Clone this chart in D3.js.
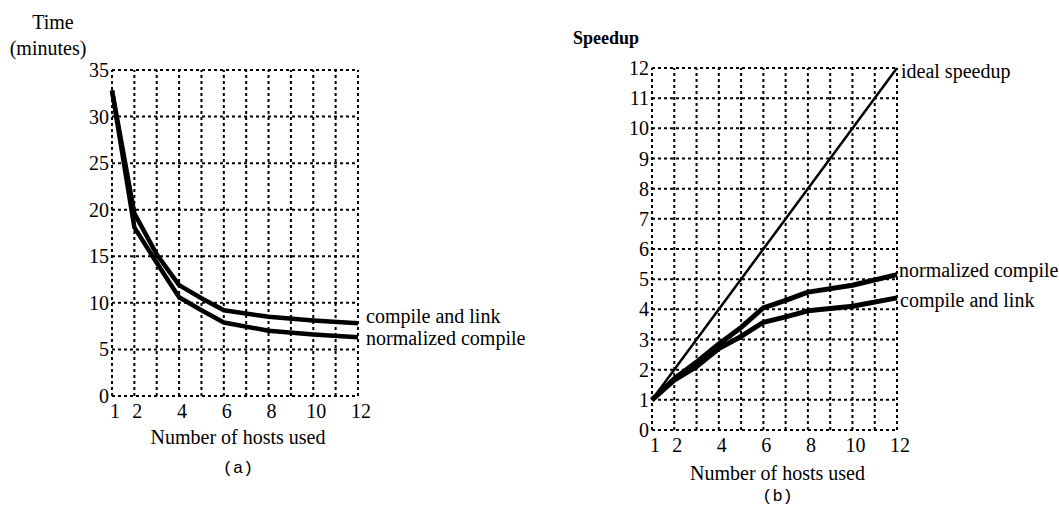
<!DOCTYPE html>
<html>
<head>
<meta charset="utf-8">
<script src="https://cdn.jsdelivr.net/npm/d3@7"></script>
<style>
    body { margin: 0; background: #fff; }
    svg { display: block; }
    text { font-family: "Liberation Serif", "Times New Roman", serif; fill: #000; }
    .grid line { stroke: #000; stroke-width: 2; stroke-dasharray: 3, 3; }
    .mono { font-family: "Liberation Mono", "Courier New", monospace; }
</style>
</head>
<body>
<div class="main"></div>
<script>
// (a) time vs hosts
const timeHosts = [1, 2, 3, 4, 5, 6, 8, 10, 12];
const timeCompileLink = [32.8, 19.6, 15.2, 11.9, 10.5, 9.2, 8.5, 8.1, 7.8];
const timeNormalized = [32.8, 18.1, 14.3, 10.6, 9.2, 7.9, 7.0, 6.6, 6.3];
const timeTicks = [0, 5, 10, 15, 20, 25, 30, 35];

// (b) speedup vs hosts
const speedHosts = [1, 2, 3, 4, 5, 6, 7, 8, 10, 12];
const speedNormalized = [1, 1.7, 2.25, 2.85, 3.4, 4.05, 4.3, 4.57, 4.8, 5.15];
const speedCompileLink = [1, 1.65, 2.1, 2.7, 3.1, 3.57, 3.75, 3.95, 4.1, 4.38];
const idealHosts = [1, 12];
const idealSpeedup = [1, 12];
const speedTicks = [0, 1, 2, 3, 4, 5, 6, 7, 8, 9, 10, 11, 12];

const hostTicks = [1, 2, 4, 6, 8, 10, 12];
const hostGrid = [1, 2, 3, 4, 5, 6, 7, 8, 9, 10, 11, 12];

const w = 1059;
const h = 507;

const svg = d3.select(".main").append("svg").attr("width", w).attr("height", h);

function drawPanel(opt) {
    const x = d3.scaleLinear().domain([1, 12]).range(opt.xRange);
    const y = d3.scaleLinear().domain(opt.yDomain).range(opt.yRange);
    const g = svg.append("g");

    // dotted grid
    const grid = g.append("g").attr("class", "grid");
    grid.selectAll(".v")
        .data(hostGrid)
        .enter()
        .append("line")
        .attr("x1", (d) => x(d))
        .attr("x2", (d) => x(d))
        .attr("y1", y.range()[0])
        .attr("y2", y.range()[1]);
    grid.selectAll(".h")
        .data(opt.yTicks)
        .enter()
        .append("line")
        .attr("x1", x.range()[0])
        .attr("x2", x.range()[1])
        .attr("y1", (d) => y(d))
        .attr("y2", (d) => y(d));

    // tick labels
    g.selectAll(".yl")
        .data(opt.yTicks)
        .enter()
        .append("text")
        .attr("x", x.range()[0] - 3)
        .attr("y", (d) => y(d))
        .attr("dy", "0.35em")
        .attr("text-anchor", "end")
        .style("font-size", "20px")
        .text((d) => d);
    g.selectAll(".xl")
        .data(hostTicks)
        .enter()
        .append("text")
        .attr("x", (d) => x(d) + 3)
        .attr("y", y.range()[0] + 15)
        .attr("dy", "0.35em")
        .attr("text-anchor", "middle")
        .style("font-size", "20px")
        .text((d) => d);

    // data lines
    opt.series.forEach((s) => {
        const line = d3.line()
            .x((d, i) => x(s.hosts[i]))
            .y((d) => y(d));
        g.append("path")
            .datum(s.values)
            .attr("d", line)
            .attr("fill", "none")
            .attr("stroke", "#000")
            .attr("stroke-width", s.width)
            .attr("stroke-linejoin", "round");
        g.append("text")
            .attr("x", x.range()[1] + s.labelDx)
            .attr("y", y(s.labelY))
            .attr("dy", "0.35em")
            .style("font-size", "20px")
            .text(s.name);
    });

    g.append("text")
        .attr("x", (x.range()[0] + x.range()[1]) / 2 + 3)
        .attr("y", y.range()[0] + opt.xTitleDy)
        .attr("dy", "0.35em")
        .attr("text-anchor", "middle")
        .style("font-size", "20px")
        .text("Number of hosts used");
    g.append("text")
        .attr("class", "mono")
        .attr("x", (x.range()[0] + x.range()[1]) / 2 + 3)
        .attr("y", y.range()[0] + opt.capDy)
        .attr("dy", "0.35em")
        .attr("text-anchor", "middle")
        .style("font-size", "17px")
        .text(opt.caption);
}

drawPanel({
    xRange: [112, 358],
    yDomain: [0, 35],
    yRange: [396, 70],
    yTicks: timeTicks,
    xTitleDy: 41,
    capDy: 71,
    caption: "(a)",
    series: [
        { name: "compile and link", hosts: timeHosts, values: timeCompileLink, width: 4.5, labelDx: 8, labelY: 8.6 },
        { name: "normalized compile", hosts: timeHosts, values: timeNormalized, width: 4.5, labelDx: 8, labelY: 6.2 }
    ]
});

drawPanel({
    xRange: [652, 897],
    yDomain: [0, 12],
    yRange: [430, 68],
    yTicks: speedTicks,
    xTitleDy: 43,
    capDy: 65,
    caption: "(b)",
    series: [
        { name: "ideal speedup", hosts: idealHosts, values: idealSpeedup, width: 2.5, labelDx: 4, labelY: 11.9 },
        { name: "normalized compile", hosts: speedHosts, values: speedNormalized, width: 5, labelDx: 2, labelY: 5.3 },
        { name: "compile and link", hosts: speedHosts, values: speedCompileLink, width: 5, labelDx: 3, labelY: 4.3 }
    ]
});

// axis titles
svg.append("text").attr("x", 53).attr("y", 22).attr("dy", "0.35em")
    .attr("text-anchor", "middle").style("font-size", "20px").text("Time");
svg.append("text").attr("x", 48).attr("y", 48).attr("dy", "0.35em")
    .attr("text-anchor", "middle").style("font-size", "20px").text("(minutes)");
svg.append("text").attr("x", 573).attr("y", 38).attr("dy", "0.35em")
    .style("font-size", "18px").style("font-weight", "bold").text("Speedup");
</script>
</body>
</html>
